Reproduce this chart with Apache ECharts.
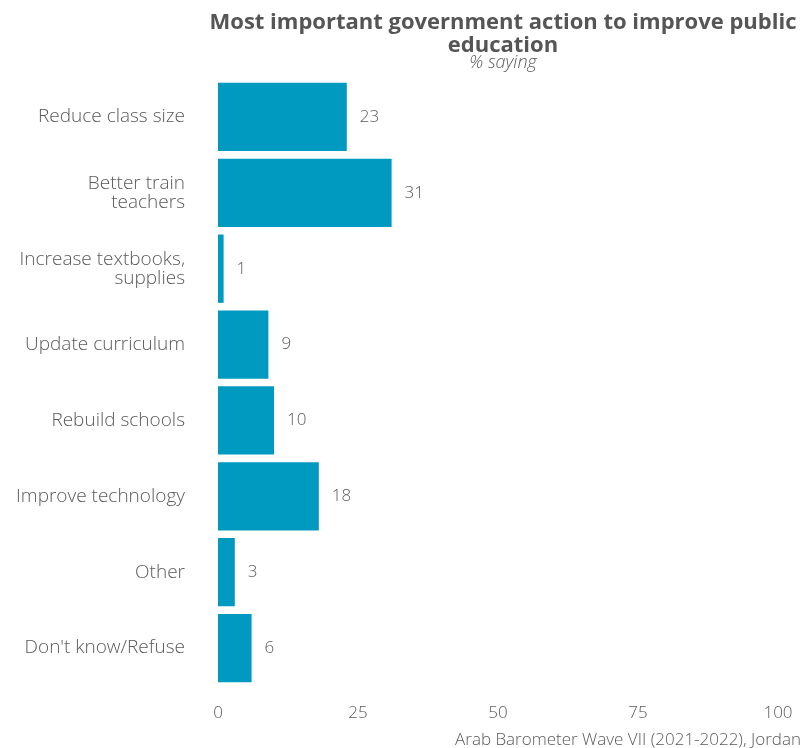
<!DOCTYPE html>
<html><head><meta charset="utf-8">
<script src="https://cdn.jsdelivr.net/npm/echarts@6/dist/echarts.min.js"></script>
<style>html,body{margin:0;padding:0;background:#fff}#c{width:809px;height:748px}</style>
</head><body><div id="c"></div>
<script>
const categories = ["Reduce class size","Better train\nteachers","Increase textbooks,\nsupplies","Update curriculum","Rebuild schools","Improve technology","Other","Don't know/Refuse"];
const values = [23,31,1,9,10,18,3,6];
const xTicks = [0,25,50,75,100];
const FONT = "'Open Sans', 'DejaVu Sans', sans-serif";
const chart = echarts.init(document.getElementById('c'), null, {renderer:'canvas'});
chart.setOption({
  animation:false,
  backgroundColor:'#ffffff',
  title:[{
    text:'Most important government action to improve public\neducation',
    left:498, top:6, textAlign:'center',
    textStyle:{fontFamily:FONT,fontWeight:'bold',fontSize:22,color:'#555555',lineHeight:23}
  },{
    text:'% saying',
    left:498, top:49, textAlign:'center',
    textStyle:{fontFamily:FONT,fontStyle:'italic',fontWeight:300,fontSize:18,color:'#5a5a5a'}
  },{
    text:'Arab Barometer Wave VII (2021-2022), Jordan',
    right:3, top:727,
    textStyle:{fontFamily:FONT,fontWeight:300,fontSize:17,color:'#5a5a5a'}
  }],
  grid:{left:218,right:31,top:79,bottom:62,containLabel:false},
  xAxis:{
    type:'value',min:xTicks[0],max:xTicks[xTicks.length-1],interval:25,
    axisLine:{show:false},axisTick:{show:false},splitLine:{show:false},
    axisLabel:{fontFamily:FONT,fontWeight:300,fontSize:17,color:'#5a5a5a',margin:19}
  },
  yAxis:{
    type:'category',data:categories,inverse:true,
    axisLine:{show:false},axisTick:{show:false},splitLine:{show:false},
    axisLabel:{fontFamily:FONT,fontWeight:300,fontSize:19,color:'#5a5a5a',margin:33,lineHeight:19,align:'right'}
  },
  series:[{
    type:'bar',data:values,barCategoryGap:'10%',
    itemStyle:{color:'#0099c0'},
    label:{show:true,position:'right',distance:13,fontFamily:FONT,fontWeight:300,fontSize:17,color:'#5a5a5a'}
  }]
});
</script></body></html>
